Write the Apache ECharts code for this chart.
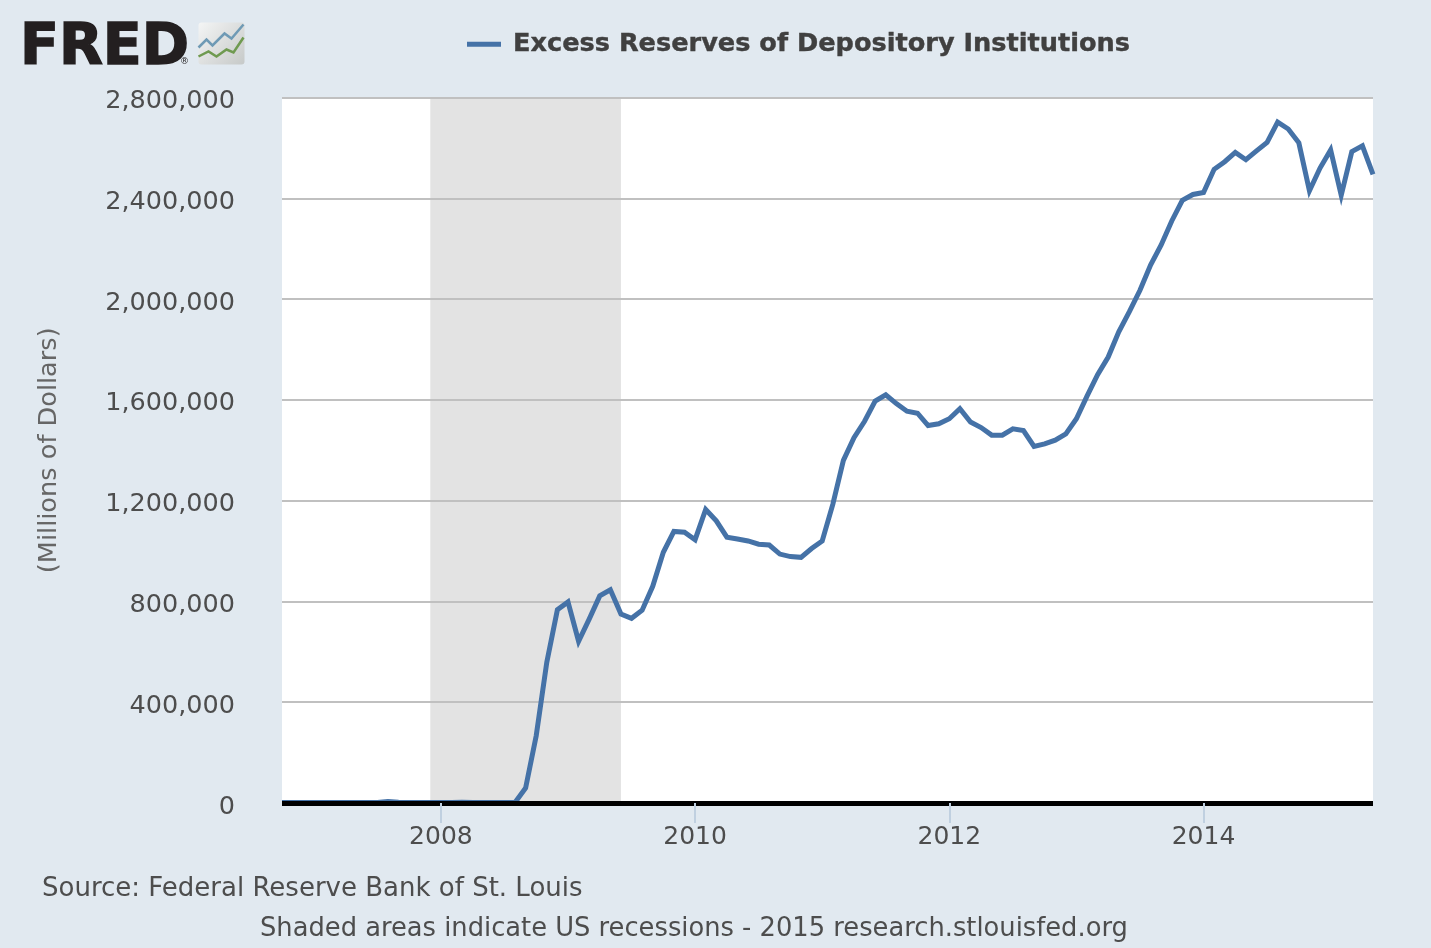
<!DOCTYPE html>
<html>
<head>
<meta charset="utf-8">
<title>Excess Reserves of Depository Institutions</title>
<script src="https://cdn.jsdelivr.net/npm/echarts@6/dist/echarts.min.js"></script>
<style>
  html, body { margin: 0; padding: 0; background: #e1e9f0; }
  #chart { width: 1431px; height: 948px; }
</style>
</head>
<body>
<div id="chart"></div>
<script>
var seriesName = 'Excess Reserves of Depository Institutions';
var yTicks = [0, 400000, 800000, 1200000, 1600000, 2000000, 2400000, 2800000];
var labelYears = ['2008', '2010', '2012', '2014'];
var recession = ['2007-12', '2009-06'];

// 月度数据，从 2006-10 到 2015-05
var months = [
  '2006-10','2006-11','2006-12',
  '2007-01','2007-02','2007-03','2007-04','2007-05','2007-06','2007-07','2007-08','2007-09','2007-10','2007-11','2007-12',
  '2008-01','2008-02','2008-03','2008-04','2008-05','2008-06','2008-07','2008-08','2008-09','2008-10','2008-11','2008-12',
  '2009-01','2009-02','2009-03','2009-04','2009-05','2009-06','2009-07','2009-08','2009-09','2009-10','2009-11','2009-12',
  '2010-01','2010-02','2010-03','2010-04','2010-05','2010-06','2010-07','2010-08','2010-09','2010-10','2010-11','2010-12',
  '2011-01','2011-02','2011-03','2011-04','2011-05','2011-06','2011-07','2011-08','2011-09','2011-10','2011-11','2011-12',
  '2012-01','2012-02','2012-03','2012-04','2012-05','2012-06','2012-07','2012-08','2012-09','2012-10','2012-11','2012-12',
  '2013-01','2013-02','2013-03','2013-04','2013-05','2013-06','2013-07','2013-08','2013-09','2013-10','2013-11','2013-12',
  '2014-01','2014-02','2014-03','2014-04','2014-05','2014-06','2014-07','2014-08','2014-09','2014-10','2014-11','2014-12',
  '2015-01','2015-02','2015-03','2015-04','2015-05'
];
var reserves = [
  1800,1700,1800,
  1800,1700,1800,1700,1800,1900,2000,6000,3000,2000,1900,2000,
  1800,1700,3000,2000,1900,2000,1900,2000,60000,267000,559000,767000,
  798000,642000,730000,822000,846000,750000,733000,765000,860000,995000,1078000,1075000,
  1045000,1165000,1120000,1055000,1048000,1040000,1027000,1024000,988000,978000,975000,1010000,
  1040000,1185000,1360000,1450000,1515000,1595000,1620000,1585000,1555000,1547000,1498000,1505000,
  1525000,1565000,1512000,1490000,1460000,1460000,1485000,1478000,1415000,1425000,1440000,1465000,
  1525000,1615000,1700000,1770000,1870000,1950000,2035000,2135000,2215000,2310000,2392000,2415000,
  2423000,2515000,2545000,2582000,2553000,2588000,2622000,2702000,2675000,2620000,2430000,2520000,
  2592000,2412000,2585000,2608000,2495000
];

function isLabelMonth(index, value) {
  return value.slice(5) === '01' && labelYears.indexOf(value.slice(0, 4)) >= 0;
}

var myChart = echarts.init(document.getElementById('chart'));
var baseFont = '"DejaVu Sans"';

var option = {
  animation: false,
  backgroundColor: '#e1e9f0',
  textStyle: { fontFamily: baseFont },
  title: [
    { text: 'FRED', left: 20, top: 21, padding: 0,
      textStyle: { fontFamily: baseFont, fontSize: 57, fontWeight: 'bold', color: '#231f20', textBorderColor: '#231f20', textBorderWidth: 1.5 } },
    { text: 'Source: Federal Reserve Bank of St. Louis', left: 42, top: 876, padding: 0,
      textStyle: { fontSize: 26, fontWeight: 'normal', color: '#4d4d4d' } },
    { text: 'Shaded areas indicate US recessions - 2015 research.stlouisfed.org', left: 260, top: 916, padding: 0,
      textStyle: { fontSize: 25.75, fontWeight: 'normal', color: '#4d4d4d' } }
  ],
  legend: {
    top: 31, left: 467, padding: 0,
    icon: 'rect', itemWidth: 34, itemHeight: 5,
    data: [seriesName],
    textStyle: { fontSize: 25.6, fontWeight: 'bold', color: '#404040', padding: [0, 0, 0, 7], textBorderColor: '#404040', textBorderWidth: 0.4 }
  },
  grid: { show: true, backgroundColor: '#fff', borderWidth: 0, left: 282, right: 58, top: 97.5, bottom: 145 },
  xAxis: {
    type: 'category',
    data: months,
    boundaryGap: false,
    z: 10,
    axisLine: { onZero: false, lineStyle: { color: '#000', width: 5, cap: 'butt' } },
    axisTick: { show: true, interval: isLabelMonth, length: 20, lineStyle: { color: '#c0d0e0', width: 2 } },
    axisLabel: {
      interval: isLabelMonth, fontSize: 25, color: '#4d4d4d', margin: 22,
      formatter: function (v) { return v.slice(0, 4); }
    },
    splitLine: { show: false }
  },
  yAxis: {
    type: 'value',
    min: yTicks[0],
    max: yTicks[yTicks.length - 1],
    interval: 400000,
    z: 1,
    name: '(Millions of Dollars)',
    nameLocation: 'middle',
    nameRotate: 90,
    nameGap: 220,
    nameTextStyle: { fontSize: 25.6, color: '#666' },
    axisLine: { show: false },
    axisTick: { show: false },
    axisLabel: {
      fontSize: 25.5, color: '#4d4d4d', margin: 47, verticalAlign: 'top', lineHeight: 8,
      formatter: function (v) { return v.toLocaleString('en-US'); }
    },
    splitLine: { lineStyle: { color: '#c0c0c0', width: 2 } }
  },
  series: [
    {
      name: seriesName,
      type: 'line',
      z: 2,
      data: reserves,
      showSymbol: false,
      smooth: false,
      color: '#4572a7',
      lineStyle: { width: 5, join: 'miter' },
      markArea: {
        // 衰退阴影放在网格线下面
        silent: true,
        z: 0,
        itemStyle: { color: '#e3e3e3' },
        data: [[{ xAxis: recession[0] }, { xAxis: recession[1] }]]
      }
    }
  ],
  graphic: [
    { type: 'text', left: 180, top: 57, style: { text: '®', fontSize: 9, fontFamily: baseFont, fill: '#231f20' } },
    { type: 'group', left: 196, top: 22, children: [
      { type: 'rect', shape: { x: 0, y: 0, width: 46, height: 42, r: 3 },
        style: { fill: new echarts.graphic.LinearGradient(0, 0, 1, 1, [
          { offset: 0, color: '#f4f5f5' }, { offset: 1, color: '#c6c9c8' }]) } },
      { type: 'polyline', shape: { points: [[0, 25], [8, 17], [14, 23], [26, 11], [33, 16], [45, 2]] },
        style: { stroke: '#6f9ab5', lineWidth: 2.5, fill: null } },
      { type: 'polyline', shape: { points: [[0, 34], [10, 29], [18, 34], [28, 27], [35, 30], [45, 15]] },
        style: { stroke: '#6f9a50', lineWidth: 2.5, fill: null } }
    ] }
  ]
};

myChart.setOption(option);
</script>
</body>
</html>
